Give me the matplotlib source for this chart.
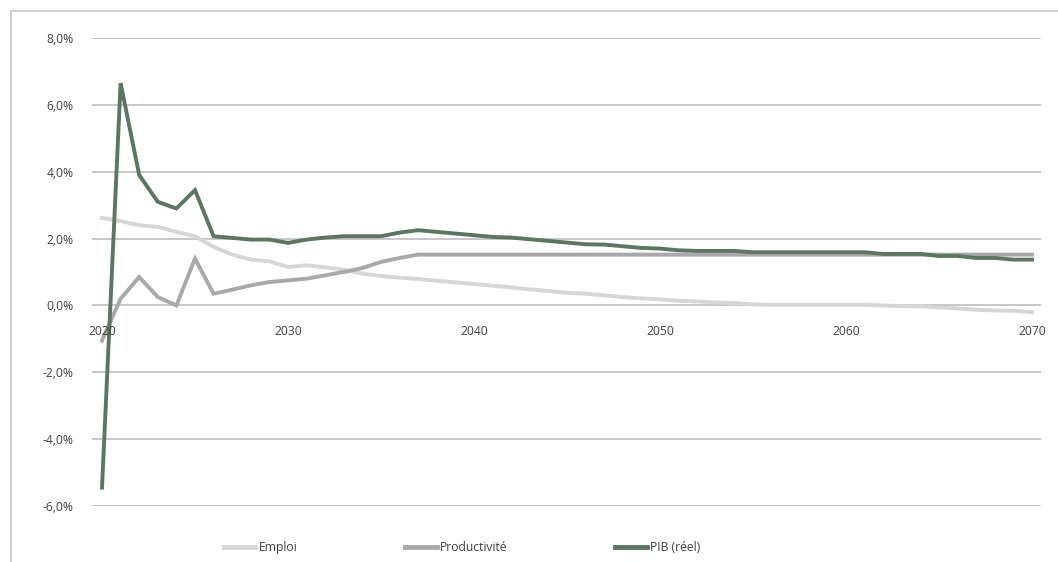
import matplotlib.pyplot as plt
from matplotlib.patches import Rectangle
from matplotlib.ticker import FuncFormatter

years = list(range(2020, 2071))

emploi = [2.62, 2.52, 2.40, 2.35, 2.20, 2.07, 1.75, 1.52, 1.37, 1.32,
          1.15, 1.20, 1.14, 1.07, 0.95, 0.88, 0.83, 0.79, 0.74, 0.69,
          0.64, 0.59, 0.54, 0.48, 0.43, 0.38, 0.35, 0.30, 0.25, 0.21,
          0.18, 0.14, 0.12, 0.09, 0.07, 0.03, 0.02, 0.02, 0.02, 0.02,
          0.02, 0.02, 0.00, -0.02, -0.03, -0.06, -0.09, -0.13, -0.15, -0.16,
          -0.20]

productivite = [-1.05, 0.20, 0.85, 0.25, 0.00, 1.40, 0.35, 0.47, 0.60, 0.70,
                0.75, 0.80, 0.90, 1.00, 1.12, 1.30, 1.42, 1.52, 1.52, 1.52,
                1.52, 1.52, 1.52, 1.52, 1.52, 1.52, 1.52, 1.52, 1.52, 1.52,
                1.52, 1.52, 1.52, 1.52, 1.52, 1.52, 1.52, 1.52, 1.52, 1.52,
                1.52, 1.52, 1.52, 1.52, 1.52, 1.52, 1.52, 1.52, 1.52, 1.52,
                1.52]

pib = [-5.45, 6.65, 3.90, 3.10, 2.90, 3.45, 2.07, 2.02, 1.97, 1.97,
       1.87, 1.97, 2.03, 2.07, 2.07, 2.07, 2.18, 2.25, 2.20, 2.15,
       2.10, 2.05, 2.03, 1.98, 1.93, 1.88, 1.83, 1.82, 1.77, 1.72,
       1.70, 1.65, 1.63, 1.63, 1.63, 1.59, 1.59, 1.59, 1.59, 1.59,
       1.59, 1.59, 1.54, 1.54, 1.54, 1.48, 1.48, 1.42, 1.42, 1.37,
       1.37]

decades = [2020, 2030, 2040, 2050, 2060, 2070]

series = [("Emploi", emploi, "#d6d6d6"),
          ("Productivité", productivite, "#a9a9a9"),
          ("PIB (réel)", pib, "#5b7662")]

plt.rcParams['font.family'] = ['Open Sans', 'DejaVu Sans']

fig = plt.figure(figsize=(10.58, 5.62), dpi=100)
# chart area border
fig.patches.append(Rectangle((11 / 1058, -0.01), 1.02, 1 - 11 / 562 + 0.01,
                             transform=fig.transFigure, fill=False,
                             edgecolor="#c8c8c8", linewidth=1.2))

ax = fig.add_axes([92 / 1058, 1 - 506 / 562, (1041 - 92) / 1058, (506 - 38) / 562])

for lab, vals, col in series:
    ax.plot(years, vals, color=col, lw=2.8, label=lab, solid_joinstyle="miter")

ax.set_xlim(2020 - 10 / 18.6, 2070 + 9 / 18.6)
ax.set_ylim(-6, 8)
ax.set_yticks([-6, -4, -2, 0, 2, 4, 6, 8])
ax.yaxis.set_major_formatter(FuncFormatter(lambda v, p: f"{v:.1f}%".replace(".", ",")))
ax.set_xticks([])
ax.grid(axis="y", color="#bdbdbd", lw=1.2)
ax.set_axisbelow(True)
for s in ax.spines.values():
    s.set_visible(False)
ax.tick_params(axis="y", length=0, pad=13, labelsize=8.7, labelcolor="#404040")

# x labels sit under the 0 line, drawn over the curves
for yr in decades:
    ax.annotate(str(yr), (yr, 0), xytext=(0, -26), textcoords="offset pixels",
                ha="center", va="center", fontsize=8.7, color="#404040",
                zorder=10, annotation_clip=False)

leg = fig.legend(loc="lower center", bbox_to_anchor=(0.437, -0.005), ncol=3,
                 frameon=False, fontsize=8.7, handlelength=2.6, columnspacing=8.9,
                 handletextpad=0.3)
for h in leg.get_lines():
    h.set_linewidth(3.5)
for t in leg.get_texts():
    t.set_color("#404040")

fig.savefig("out.png", dpi=100)
